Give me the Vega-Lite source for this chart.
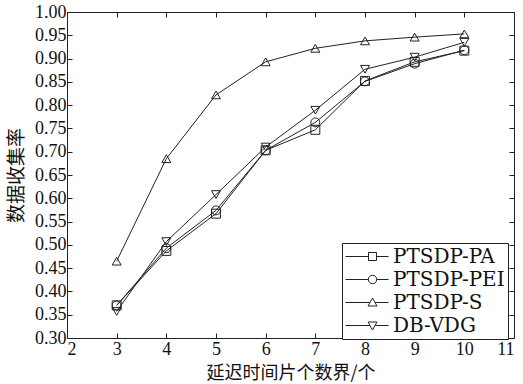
{
  "$schema": "https://vega.github.io/schema/vega-lite/v6.json",
  "autosize": {"type": "none"},
  "width": 447,
  "height": 326,
  "padding": {"left": 67, "top": 12, "right": 9, "bottom": 46},
  "background": "white",
  "config": {
    "view": {"stroke": "#222", "strokeWidth": 1},
    "axis": {
      "grid": false,
      "domainColor": "#222",
      "tickColor": "#222",
      "tickSize": -5,
      "labelColor": "#111",
      "labelFont": "Liberation Serif",
      "labelFontSize": 18,
      "titleFont": "Noto Sans CJK SC",
      "titleFontSize": 19,
      "titleFontWeight": "normal",
      "titleColor": "#111"
    }
  },
  "data": {
    "values": [
      {"x": 3, "y": 0.370, "s": "PTSDP-PA"},
      {"x": 4, "y": 0.487, "s": "PTSDP-PA"},
      {"x": 5, "y": 0.567, "s": "PTSDP-PA"},
      {"x": 6, "y": 0.703, "s": "PTSDP-PA"},
      {"x": 7, "y": 0.747, "s": "PTSDP-PA"},
      {"x": 8, "y": 0.852, "s": "PTSDP-PA"},
      {"x": 9, "y": 0.893, "s": "PTSDP-PA"},
      {"x": 10, "y": 0.917, "s": "PTSDP-PA"},
      {"x": 3, "y": 0.370, "s": "PTSDP-PEI"},
      {"x": 4, "y": 0.493, "s": "PTSDP-PEI"},
      {"x": 5, "y": 0.574, "s": "PTSDP-PEI"},
      {"x": 6, "y": 0.703, "s": "PTSDP-PEI"},
      {"x": 7, "y": 0.763, "s": "PTSDP-PEI"},
      {"x": 8, "y": 0.851, "s": "PTSDP-PEI"},
      {"x": 9, "y": 0.889, "s": "PTSDP-PEI"},
      {"x": 10, "y": 0.918, "s": "PTSDP-PEI"},
      {"x": 3, "y": 0.465, "s": "PTSDP-S"},
      {"x": 4, "y": 0.685, "s": "PTSDP-S"},
      {"x": 5, "y": 0.822, "s": "PTSDP-S"},
      {"x": 6, "y": 0.893, "s": "PTSDP-S"},
      {"x": 7, "y": 0.922, "s": "PTSDP-S"},
      {"x": 8, "y": 0.938, "s": "PTSDP-S"},
      {"x": 9, "y": 0.946, "s": "PTSDP-S"},
      {"x": 10, "y": 0.953, "s": "PTSDP-S"},
      {"x": 3, "y": 0.357, "s": "DB-VDG"},
      {"x": 4, "y": 0.507, "s": "DB-VDG"},
      {"x": 5, "y": 0.608, "s": "DB-VDG"},
      {"x": 6, "y": 0.710, "s": "DB-VDG"},
      {"x": 7, "y": 0.789, "s": "DB-VDG"},
      {"x": 8, "y": 0.877, "s": "DB-VDG"},
      {"x": 9, "y": 0.903, "s": "DB-VDG"},
      {"x": 10, "y": 0.935, "s": "DB-VDG"}
    ]
  },
  "layer": [
    {
      "mark": {"type": "line", "stroke": "#222", "strokeWidth": 1},
      "encoding": {
        "x": {"field": "x", "type": "quantitative", "scale": {"domain": [2, 11], "nice": false},
          "axis": {"values": [2,3,4,5,6,7,8,9,10,11], "title": "延迟时间片个数界/个", "labelPadding": 7, "titlePadding": 6, "titleFontSize": 18}},
        "y": {"field": "y", "type": "quantitative", "scale": {"domain": [0.3, 1.0], "nice": false, "zero": false},
          "axis": {"values": [0.3,0.35,0.4,0.45,0.5,0.55,0.6,0.65,0.7,0.75,0.8,0.85,0.9,0.95,1.0], "format": ".2f", "title": "数据收集率", "labelPadding": 6, "titlePadding": 8}},
        "detail": {"field": "s"}
      }
    },
    {
      "mark": {"type": "point", "filled": false, "stroke": "#222", "strokeWidth": 1, "size": 80, "opacity": 1},
      "encoding": {
        "x": {"field": "x", "type": "quantitative", "axis": {"orient": "top", "labels": false, "title": null, "domain": false, "values": [2,3,4,5,6,7,8,9,10,11]}},
        "y": {"field": "y", "type": "quantitative", "axis": {"orient": "right", "labels": false, "title": null, "domain": false, "values": [0.3,0.35,0.4,0.45,0.5,0.55,0.6,0.65,0.7,0.75,0.8,0.85,0.9,0.95,1.0]}},
        "shape": {
          "field": "s", "type": "nominal",
          "scale": {"domain": ["PTSDP-PA", "PTSDP-PEI", "PTSDP-S", "DB-VDG"], "range": ["square", "circle", "triangle-up", "triangle-down"]},
          "legend": null
        }
      }
    },
    {
      "mark": {"type": "point", "opacity": 0, "filled": false},
      "encoding": {
        "x": {"field": "x", "type": "quantitative", "axis": null},
        "y": {"field": "y", "type": "quantitative", "axis": null},
        "shape": {
          "field": "s", "type": "nominal",
          "scale": {"domain": ["PTSDP-PA", "PTSDP-PEI", "PTSDP-S", "DB-VDG"],
            "range": [
              "M-1,0H1.3M2.1,0H3.3M1.3,-0.4H2.1V0.4H1.3Z",
              "M-1,0H1.28M2.12,0H3.3M1.28,0A0.42,0.42 0 1,0 2.12,0A0.42,0.42 0 1,0 1.28,0Z",
              "M-1,0H1.43M1.97,0H3.3M1.7,-0.45L2.15,0.35L1.25,0.35Z",
              "M-1,0H1.43M1.97,0H3.3M1.7,0.45L2.15,-0.35L1.25,-0.35Z"
            ]},
          "legend": {
            "title": null,
            "orient": "none",
            "legendX": 275,
            "legendY": 231,
            "padding": 3,
            "strokeColor": "#222",
            "fillColor": "white",
            "cornerRadius": 0,
            "labelFont": "DejaVu Serif",
            "labelFontSize": 20,
            "labelColor": "#111",
            "labelOffset": 27,
            "symbolSize": 400,
            "symbolOpacity": 1,
            "symbolStrokeColor": "#222",
            "symbolStrokeWidth": 1,
            "symbolFillColor": "transparent",
            "rowPadding": 2
          }
        }
      }
    }
  ],
  "resolve": {"axis": {"x": "independent", "y": "independent"}, "scale": {"shape": "independent"}}
}
